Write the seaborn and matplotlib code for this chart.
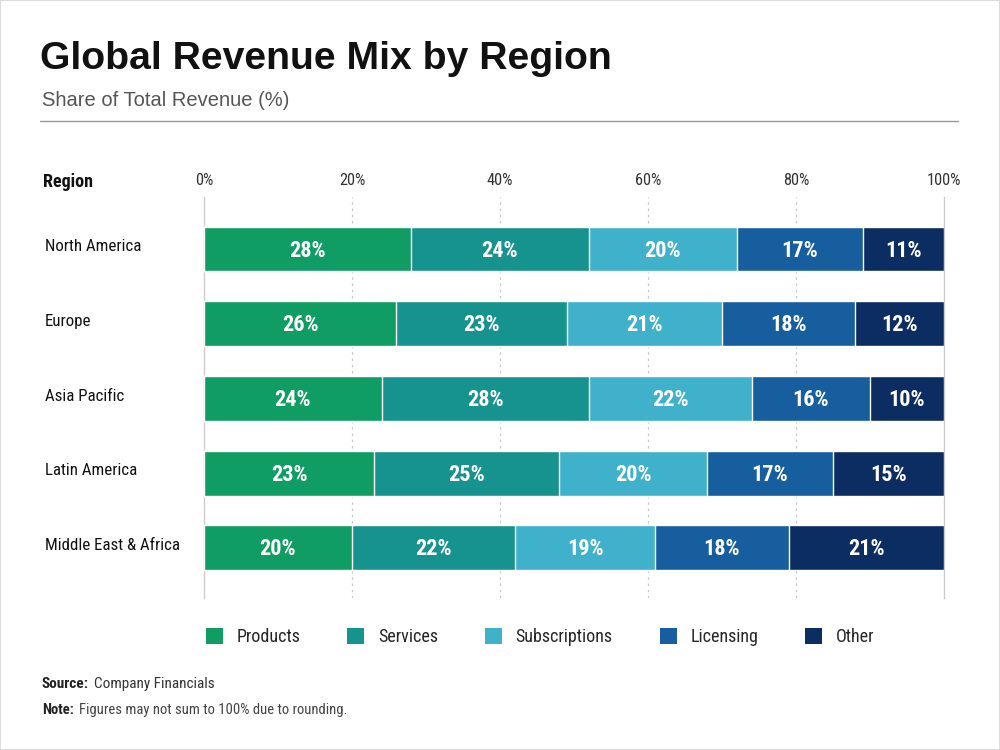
import pandas as pd
import numpy as np
import seaborn as sns
import matplotlib.pyplot as plt
from matplotlib import font_manager as fm
from matplotlib.font_manager import FontProperties
from matplotlib.patches import Patch, Rectangle
from matplotlib.lines import Line2D
import matplotlib.transforms as mtransforms

regions = ['North America', 'Europe', 'Asia Pacific', 'Latin America', 'Middle East & Africa']
categories = ['Products', 'Services', 'Subscriptions', 'Licensing', 'Other']
products = [28, 26, 24, 23, 20]
services = [24, 23, 28, 25, 22]
subscriptions = [20, 21, 22, 20, 19]
licensing = [17, 18, 16, 17, 18]
other = [11, 12, 10, 15, 21]
colors = ['#0f9d63', '#17938f', '#3fb1cb', '#175e9f', '#0b2d62']
xticks = [0, 20, 40, 60, 80, 100]

sns.set_theme(style='white')
wide = ['Liberation Sans', 'DejaVu Sans']
plt.rcParams['font.family'] = wide


def _w(f):
    try:
        return int(f.weight)
    except (TypeError, ValueError):
        return 700 if 'bold' in str(f.weight).lower() else 400


def narrow_font(bold):
    # look for a narrow / condensed sans face, the reference uses one
    cands = []
    for f in fm.fontManager.ttflist:
        nm = f.name.lower()
        cond = ('narrow' in nm or 'condensed' in nm or
                str(f.stretch).lower() in ('condensed', 'semi-condensed', 'extra-condensed'))
        if not cond or f.style != 'normal' or 'mono' in nm or 'serif' in nm and 'sans' not in nm:
            continue
        if (_w(f) >= 600) != bold:
            continue
        rank = 0 if 'liberation' in nm else 1 if 'roboto' in nm else 2 if 'open' in nm else 3
        if bold and _w(f) > 750:
            rank += 0.5
        cands.append((rank, f.fname))
    if cands:
        return FontProperties(fname=sorted(cands)[0][1]), 1.0
    return FontProperties(family=wide, weight='bold' if bold else 'normal'), 0.86


nreg, sreg = narrow_font(False)
nbold, sbold = narrow_font(True)


def fp(base, size):
    p = base.copy()
    p.set_size(size)
    return p


df = pd.DataFrame({'region': regions, 'Products': products, 'Services': services,
                   'Subscriptions': subscriptions, 'Licensing': licensing, 'Other': other})
cum = df[categories].cumsum(axis=1)

fig = plt.figure(figsize=(10, 7.5), dpi=100)
ax = fig.add_axes([0.204, 0.2027, 0.74, 0.534])

# stacked bars: draw cumulative totals from the longest down
for cat, col in reversed(list(zip(categories, colors))):
    sns.barplot(x=cum[cat], y=df['region'], color=col, saturation=1, width=0.6, orient='h',
                edgecolor='white', linewidth=1, errorbar=None, ax=ax, zorder=3)

for i, r in df.iterrows():
    for cat in categories:
        v = r[cat]
        ax.text(cum.loc[i, cat] - v / 2, i + 0.02, f'{v}%', ha='center', va='center',
                color='white', fontproperties=fp(nbold, 16 * sbold), zorder=5)

ax.set_xlim(0, 100)
ax.set_ylim(4.67, -0.69)
ax.xaxis.tick_top()
ax.set_xticks(xticks)
ax.set_xticklabels([f'{t}%' for t in xticks], color='#333333')
for lab in ax.get_xticklabels():
    lab.set_fontproperties(fp(nreg, 11.8 * sreg))
ax.tick_params(axis='x', length=0, pad=7)
ax.set_yticks([])
ax.set_xlabel('')
ax.set_ylabel('')
for t in xticks[1:-1]:
    ax.axvline(t, color='#c8c8c8', lw=0.9, ls=(0, (2, 3)), zorder=1)
for s in ['top', 'bottom']:
    ax.spines[s].set_visible(False)
for s in ['left', 'right']:
    ax.spines[s].set_color('#cccccc')
    ax.spines[s].set_linewidth(1)
ax.patch.set_alpha(0)

# region labels
tr = mtransforms.blended_transform_factory(fig.transFigure, ax.transData)
for i, name in enumerate(regions):
    fig.text(0.045, i - 0.03, name, transform=tr, ha='left', va='center', color='#111111',
             fontproperties=fp(nreg, 12.2 * sreg))
fig.text(0.043, 1 - 182 / 750, 'Region', ha='left', va='center', color='#111111',
         fontproperties=fp(nbold, 13 * sbold))

# title block
fig.text(0.04, 1 - 59 / 750, 'Global Revenue Mix by Region', ha='left', va='center',
         fontsize=28.2, fontweight='bold', color='#111111', family=wide)
fig.text(0.042, 1 - 100 / 750, 'Share of Total Revenue (%)', ha='left', va='center',
         fontsize=14.5, color='#555555', family=wide)
fig.add_artist(Line2D([0.04, 0.958], [1 - 121 / 750] * 2, color='#9a9a9a', lw=1))

# legend
handles = [Patch(facecolor=c, edgecolor='none', label=l) for c, l in zip(colors, categories)]
leg = fig.legend(handles=handles, loc='center', bbox_to_anchor=(0.54, 1 - 637 / 750), ncol=5,
                 frameon=False, prop=fp(nreg, 13 * sreg), handlelength=0.95, handleheight=0.95,
                 handletextpad=0.75, columnspacing=2.6 / sreg)

# footer: bold lead-in, regular text placed right after it
fig.canvas.draw()
rend = fig.canvas.get_renderer()
for y, lead, rest, size, col in [(684, 'Source:', 'Company Financials', 11, '#333333'),
                                 (710, 'Note:', 'Figures may not sum to 100% due to rounding.', 10.5, '#444444')]:
    t = fig.text(0.042, 1 - y / 750, lead, ha='left', va='center', color='#222222',
                 fontproperties=fp(nbold, size * sbold))
    bb = t.get_window_extent(renderer=rend)
    fig.text(bb.x1 / 1000 + 0.005, 1 - y / 750, rest, ha='left', va='center', color=col,
             fontproperties=fp(nreg, size * sreg))

fig.add_artist(Rectangle((0, 0), 1, 1, transform=fig.transFigure, fill=False,
                         edgecolor='#dddddd', lw=1.5))

fig.savefig('out.png', dpi=100)
